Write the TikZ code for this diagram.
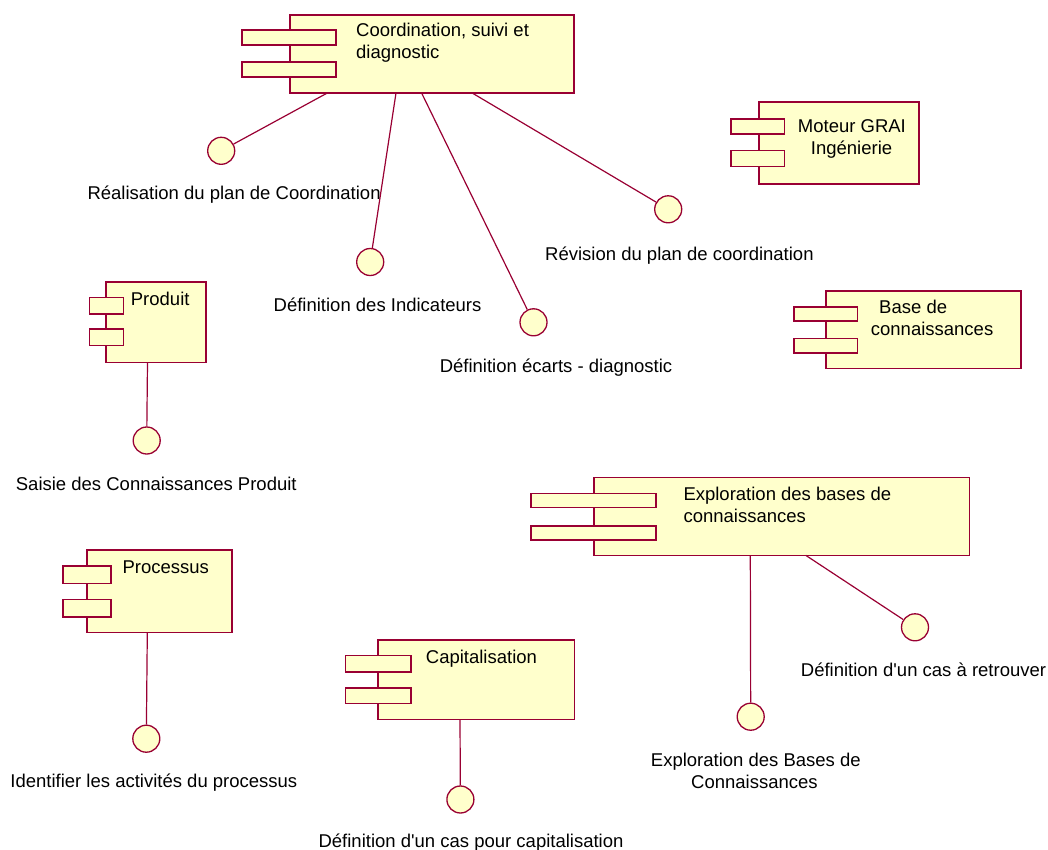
\documentclass[tikz,border=0pt]{standalone}
\usepackage{fontspec}
\setmainfont{Liberation Sans}[Ligatures=TeXOff]
\definecolor{umlborder}{RGB}{153,0,51}
\definecolor{umlfill}{RGB}{255,255,204}
\tikzset{
  compbox/.style={draw=umlborder, fill=umlfill, line width=1.6pt, inner sep=0pt, rectangle},
  plug/.style={draw=umlborder, fill=umlfill, line width=1.6pt, inner sep=0pt, rectangle},
  iface/.style={draw=umlborder, fill=umlfill, line width=1.3pt, circle, minimum size=27pt, inner sep=0pt},
  conn/.style={draw=umlborder, line width=1.2pt},
  lbl/.style={inner sep=0pt, anchor=base west, font=\fontsize{18.5}{22}\selectfont, text=black},
}
\begin{document}
\begin{tikzpicture}[x=1pt,y=-1pt]
\useasboundingbox (0,0) rectangle (1048,850);

% ---------- Coordination, suivi et diagnostic ----------
\node[compbox, minimum width=284pt, minimum height=78pt] (coord) at (432,54) {};
\node[plug, minimum width=94pt, minimum height=15pt] (coordp1) at (289,37.7) {};
\node[plug, minimum width=94pt, minimum height=15pt] (coordp2) at (289,69.8) {};
\node[lbl] (coordt1) at (356,37) {Coordination, suivi et};
\node[lbl] (coordt2) at (356,59) {diagnostic};

% ---------- Moteur GRAI Ingenierie ----------
\node[compbox, minimum width=160pt, minimum height=82pt] (moteur) at (839,143.3) {};
\node[plug, minimum width=53.3pt, minimum height=15pt] (moteurp1) at (757.7,126.8) {};
\node[plug, minimum width=53.3pt, minimum height=16pt] (moteurp2) at (757.7,158.7) {};
\node[lbl] (moteurt1) at (797.7,132.3) {Moteur GRAI};
\node[lbl] (moteurt2) at (810.7,154.3) {Ingénierie};

% ---------- Produit ----------
\node[compbox, minimum width=100pt, minimum height=80.6pt] (produit) at (155.7,322) {};
\node[plug, minimum width=34pt, minimum height=16.3pt] (produitp1) at (106.3,305.8) {};
\node[plug, minimum width=34pt, minimum height=16.5pt] (produitp2) at (106.3,337.3) {};
\node[lbl] (produitt) at (130.7,305) {Produit};

% ---------- Base de connaissances ----------
\node[compbox, minimum width=195pt, minimum height=77.6pt] (base) at (923.2,329.5) {};
\node[plug, minimum width=63.7pt, minimum height=13.6pt] (basep1) at (825.8,314) {};
\node[plug, minimum width=63.7pt, minimum height=14.4pt] (basep2) at (825.8,345.5) {};
\node[lbl] (baset1) at (879,313.5) {Base de};
\node[lbl] (baset2) at (870.7,335.5) {connaissances};

% ---------- Exploration des bases de connaissances ----------
\node[compbox, minimum width=375.3pt, minimum height=78pt] (explo) at (781.7,516.3) {};
\node[plug, minimum width=125pt, minimum height=14pt] (explop1) at (593.2,500.3) {};
\node[plug, minimum width=125pt, minimum height=14pt] (explop2) at (593.2,533) {};
\node[lbl] (explot1) at (683.3,500) {Exploration des bases de};
\node[lbl] (explot2) at (683.3,522.3) {connaissances};

% ---------- Processus ----------
\node[compbox, minimum width=145pt, minimum height=82.7pt] (proc) at (159.2,591.3) {};
\node[plug, minimum width=48pt, minimum height=17.6pt] (procp1) at (86.7,574.5) {};
\node[plug, minimum width=48pt, minimum height=17.6pt] (procp2) at (86.7,608.2) {};
\node[lbl] (proct) at (122.3,573.3) {Processus};

% ---------- Capitalisation ----------
\node[compbox, minimum width=196.6pt, minimum height=79.3pt] (capi) at (476,679.7) {};
\node[plug, minimum width=65.3pt, minimum height=16.3pt] (capip1) at (378.3,663.8) {};
\node[plug, minimum width=65.3pt, minimum height=15.6pt] (capip2) at (378.3,695.5) {};
\node[lbl] (capit) at (425.7,663.3) {Capitalisation};

% ---------- Interfaces ----------
\node[iface] (i1) at (221.2,150.8) {};
\node[iface] (i2) at (370.2,262) {};
\node[iface] (i3) at (533.5,322.3) {};
\node[iface] (i4) at (668.2,209.3) {};
\node[iface] (i5) at (146.7,440.5) {};
\node[iface] (i6) at (146.3,738.7) {};
\node[iface] (i7) at (460.4,799.5) {};
\node[iface] (i8) at (750.7,716.7) {};
\node[iface] (i9) at (915,627.3) {};

% ---------- Connector start points ----------
\coordinate (s1) at (327.3,93);
\coordinate (s2) at (396,93);
\coordinate (s3) at (421.6,93);
\coordinate (s4) at (472.2,93);
\coordinate (s5) at (147.5,362.3);
\coordinate (s6) at (147.3,632.7);
\coordinate (s7) at (460,719.3);
\coordinate (s8) at (750.3,555.3);
\coordinate (s9) at (805.7,555.3);

\draw[conn] (s1) -- (i1);
\draw[conn] (s2) -- (i2);
\draw[conn] (s3) -- (i3);
\draw[conn] (s4) -- (i4);
\draw[conn] (s5) -- (i5);
\draw[conn] (s6) -- (i6);
\draw[conn] (s7) -- (i7);
\draw[conn] (s8) -- (i8);
\draw[conn] (s9) -- (i9);

% ---------- Interface labels ----------
\node[lbl] (l1) at (87.3,200) {Réalisation du plan de Coordination};
\node[lbl] (l2) at (273.5,311) {Définition des Indicateurs};
\node[lbl] (l3) at (439.6,372.7) {Définition écarts - diagnostic};
\node[lbl] (l4) at (545,260) {Révision du plan de coordination};
\node[lbl] (l5) at (15.7,490) {Saisie des Connaissances Produit};
\node[lbl] (l6) at (10.2,787.7) {Identifier les activités du processus};
\node[lbl] (l7) at (318.4,847.5) {Définition d'un cas pour capitalisation};
\node[lbl] (l8a) at (650.7,766.7) {Exploration des Bases de};
\node[lbl] (l8b) at (691,788.3) {Connaissances};
\node[lbl] (l9) at (800.7,676.7) {Définition d'un cas à retrouver};
\end{tikzpicture}
\end{document}
